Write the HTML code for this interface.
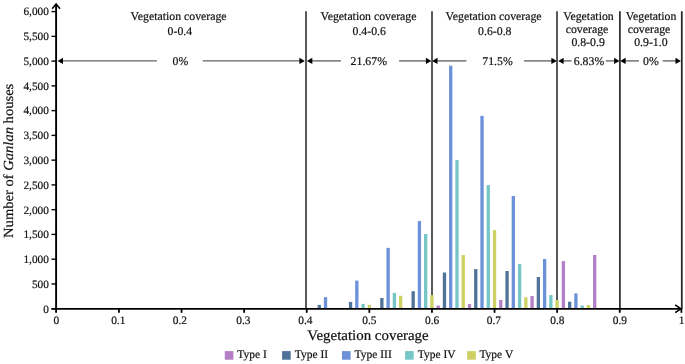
<!DOCTYPE html><html><head><meta charset="utf-8"><title>chart</title><style>
html,body{margin:0;padding:0;background:#fff;overflow:hidden;}
svg{display:block;will-change:transform;}
text{font-family:"Liberation Serif",serif;fill:#111;text-rendering:geometricPrecision;stroke:#111;stroke-width:0.2px;}
</style></head><body>
<svg width="685" height="364" viewBox="0 0 685 364">
<line x1="306.0" y1="11.3" x2="306.0" y2="308.7" stroke="#484848" stroke-width="1.8"/>
<line x1="432.0" y1="11.3" x2="432.0" y2="308.7" stroke="#484848" stroke-width="1.8"/>
<line x1="557.0" y1="11.3" x2="557.0" y2="308.7" stroke="#484848" stroke-width="1.8"/>
<line x1="619.9" y1="11.3" x2="619.9" y2="308.7" stroke="#333" stroke-width="1.8"/>
<line x1="681.8" y1="11.3" x2="681.8" y2="308.7" stroke="#2a2a2a" stroke-width="1.8"/>
<line x1="61.20" y1="60.9" x2="156.9" y2="60.9" stroke="#636363" stroke-width="1.35"/>
<line x1="202.8" y1="60.9" x2="301.30" y2="60.9" stroke="#636363" stroke-width="1.35"/>
<path d="M57.60,60.9 L63.00,57.80 L63.00,64.00 Z" fill="#000"/>
<path d="M304.80,60.9 L299.40,57.80 L299.40,64.00 Z" fill="#000"/>
<text x="180.4" y="64.9" font-size="11.8" text-anchor="middle">0%</text>
<line x1="310.50" y1="60.9" x2="340.9" y2="60.9" stroke="#636363" stroke-width="1.35"/>
<line x1="399.1" y1="60.9" x2="427.80" y2="60.9" stroke="#636363" stroke-width="1.35"/>
<path d="M306.90,60.9 L312.30,57.80 L312.30,64.00 Z" fill="#000"/>
<path d="M431.30,60.9 L425.90,57.80 L425.90,64.00 Z" fill="#000"/>
<text x="368.8" y="64.9" font-size="11.8" text-anchor="middle">21.67%</text>
<line x1="435.70" y1="60.9" x2="466.4" y2="60.9" stroke="#636363" stroke-width="1.35"/>
<line x1="524.1" y1="60.9" x2="553.30" y2="60.9" stroke="#636363" stroke-width="1.35"/>
<path d="M432.10,60.9 L437.50,57.80 L437.50,64.00 Z" fill="#000"/>
<path d="M556.80,60.9 L551.40,57.80 L551.40,64.00 Z" fill="#000"/>
<text x="497.5" y="64.9" font-size="11.8" text-anchor="middle">71.5%</text>
<line x1="561.80" y1="60.9" x2="571.6" y2="60.9" stroke="#636363" stroke-width="1.35"/>
<line x1="605.8" y1="60.9" x2="616.00" y2="60.9" stroke="#636363" stroke-width="1.35"/>
<path d="M558.20,60.9 L563.60,57.80 L563.60,64.00 Z" fill="#000"/>
<path d="M619.50,60.9 L614.10,57.80 L614.10,64.00 Z" fill="#000"/>
<text x="589.0" y="64.9" font-size="11.8" text-anchor="middle">6.83%</text>
<line x1="623.80" y1="60.9" x2="639.0" y2="60.9" stroke="#636363" stroke-width="1.35"/>
<line x1="662.7" y1="60.9" x2="677.40" y2="60.9" stroke="#636363" stroke-width="1.35"/>
<path d="M620.20,60.9 L625.60,57.80 L625.60,64.00 Z" fill="#000"/>
<path d="M680.90,60.9 L675.50,57.80 L675.50,64.00 Z" fill="#000"/>
<text x="650.9" y="64.9" font-size="11.8" text-anchor="middle">0%</text>
<rect x="317.61" y="304.9" width="3.3" height="3.80" fill="#4f7399"/>
<rect x="323.87" y="297.2" width="3.3" height="11.50" fill="#6b91d9"/>
<rect x="348.91" y="301.9" width="3.3" height="6.80" fill="#4f7399"/>
<rect x="355.17" y="280.6" width="3.3" height="28.10" fill="#6b91d9"/>
<rect x="361.43" y="303.9" width="3.3" height="4.80" fill="#74c7c6"/>
<rect x="367.69" y="304.9" width="3.3" height="3.80" fill="#cdd062"/>
<rect x="380.21" y="298.0" width="3.3" height="10.70" fill="#4f7399"/>
<rect x="386.47" y="247.9" width="3.3" height="60.80" fill="#6b91d9"/>
<rect x="392.73" y="292.9" width="3.3" height="15.80" fill="#74c7c6"/>
<rect x="398.99" y="295.8" width="3.3" height="12.90" fill="#cdd062"/>
<rect x="411.51" y="291.2" width="3.3" height="17.50" fill="#4f7399"/>
<rect x="417.77" y="221.1" width="3.3" height="87.60" fill="#6b91d9"/>
<rect x="424.03" y="234.0" width="3.3" height="74.70" fill="#74c7c6"/>
<rect x="430.29" y="295.1" width="3.3" height="13.60" fill="#cdd062"/>
<rect x="436.55" y="305.5" width="3.3" height="3.20" fill="#b37fc6"/>
<rect x="442.81" y="272.5" width="3.3" height="36.20" fill="#4f7399"/>
<rect x="449.07" y="65.7" width="3.3" height="243.00" fill="#6b91d9"/>
<rect x="455.33" y="160.1" width="3.3" height="148.60" fill="#74c7c6"/>
<rect x="461.59" y="255.1" width="3.3" height="53.60" fill="#cdd062"/>
<rect x="467.85" y="304.1" width="3.3" height="4.60" fill="#b37fc6"/>
<rect x="474.11" y="269.1" width="3.3" height="39.60" fill="#4f7399"/>
<rect x="480.37" y="115.9" width="3.3" height="192.80" fill="#6b91d9"/>
<rect x="486.63" y="185.1" width="3.3" height="123.60" fill="#74c7c6"/>
<rect x="492.89" y="230.1" width="3.3" height="78.60" fill="#cdd062"/>
<rect x="499.15" y="300.0" width="3.3" height="8.70" fill="#b37fc6"/>
<rect x="505.41" y="271.0" width="3.3" height="37.70" fill="#4f7399"/>
<rect x="511.67" y="196.0" width="3.3" height="112.70" fill="#6b91d9"/>
<rect x="517.93" y="264.1" width="3.3" height="44.60" fill="#74c7c6"/>
<rect x="524.19" y="297.3" width="3.3" height="11.40" fill="#cdd062"/>
<rect x="530.44" y="296.0" width="3.3" height="12.70" fill="#b37fc6"/>
<rect x="536.70" y="277.0" width="3.3" height="31.70" fill="#4f7399"/>
<rect x="542.96" y="259.0" width="3.3" height="49.70" fill="#6b91d9"/>
<rect x="549.22" y="295.1" width="3.3" height="13.60" fill="#74c7c6"/>
<rect x="555.48" y="300.0" width="3.3" height="8.70" fill="#cdd062"/>
<rect x="561.74" y="261.1" width="3.3" height="47.60" fill="#b37fc6"/>
<rect x="568.00" y="301.7" width="3.3" height="7.00" fill="#4f7399"/>
<rect x="574.26" y="293.4" width="3.3" height="15.30" fill="#6b91d9"/>
<rect x="580.52" y="305.5" width="3.3" height="3.20" fill="#74c7c6"/>
<rect x="586.78" y="305.0" width="3.3" height="3.70" fill="#cdd062"/>
<rect x="593.04" y="255.0" width="3.3" height="53.70" fill="#b37fc6"/>
<line x1="56.1" y1="4.2" x2="56.1" y2="312.8" stroke="#000" stroke-width="1.9"/>
<path d="M52.2,8.8 L56.1,4.0 L60.0,8.8" fill="none" stroke="#000" stroke-width="1.5"/>
<line x1="51.5" y1="308.8" x2="680.8" y2="308.8" stroke="#000" stroke-width="1.8"/>
<path d="M675.2,304.9 L680.8,308.8 L675.2,312.7" fill="none" stroke="#000" stroke-width="1.6"/>
<line x1="51.5" y1="308.70" x2="56" y2="308.70" stroke="#000" stroke-width="1.4"/>
<text x="48.9" y="312.55" font-size="11.3" text-anchor="end">0</text>
<line x1="51.5" y1="283.94" x2="56" y2="283.94" stroke="#000" stroke-width="1.4"/>
<text x="48.9" y="287.79" font-size="11.3" text-anchor="end">500</text>
<line x1="51.5" y1="259.18" x2="56" y2="259.18" stroke="#000" stroke-width="1.4"/>
<text x="48.9" y="263.03" font-size="11.3" text-anchor="end">1,000</text>
<line x1="51.5" y1="234.42" x2="56" y2="234.42" stroke="#000" stroke-width="1.4"/>
<text x="48.9" y="238.27" font-size="11.3" text-anchor="end">1,500</text>
<line x1="51.5" y1="209.67" x2="56" y2="209.67" stroke="#000" stroke-width="1.4"/>
<text x="48.9" y="213.52" font-size="11.3" text-anchor="end">2,000</text>
<line x1="51.5" y1="184.91" x2="56" y2="184.91" stroke="#000" stroke-width="1.4"/>
<text x="48.9" y="188.76" font-size="11.3" text-anchor="end">2,500</text>
<line x1="51.5" y1="160.15" x2="56" y2="160.15" stroke="#000" stroke-width="1.4"/>
<text x="48.9" y="164.00" font-size="11.3" text-anchor="end">3,000</text>
<line x1="51.5" y1="135.39" x2="56" y2="135.39" stroke="#000" stroke-width="1.4"/>
<text x="48.9" y="139.24" font-size="11.3" text-anchor="end">3,500</text>
<line x1="51.5" y1="110.63" x2="56" y2="110.63" stroke="#000" stroke-width="1.4"/>
<text x="48.9" y="114.48" font-size="11.3" text-anchor="end">4,000</text>
<line x1="51.5" y1="85.87" x2="56" y2="85.87" stroke="#000" stroke-width="1.4"/>
<text x="48.9" y="89.72" font-size="11.3" text-anchor="end">4,500</text>
<line x1="51.5" y1="61.12" x2="56" y2="61.12" stroke="#000" stroke-width="1.4"/>
<text x="48.9" y="64.97" font-size="11.3" text-anchor="end">5,000</text>
<line x1="51.5" y1="36.36" x2="56" y2="36.36" stroke="#000" stroke-width="1.4"/>
<text x="48.9" y="40.21" font-size="11.3" text-anchor="end">5,500</text>
<line x1="51.5" y1="11.60" x2="56" y2="11.60" stroke="#000" stroke-width="1.4"/>
<text x="48.9" y="15.45" font-size="11.3" text-anchor="end">6,000</text>
<text x="56.45" y="323.5" font-size="11.4" text-anchor="middle">0</text>
<line x1="118.95" y1="308" x2="118.95" y2="312.8" stroke="#000" stroke-width="1.8"/>
<text x="118.25" y="323.5" font-size="11.4" text-anchor="middle">0.1</text>
<line x1="181.55" y1="308" x2="181.55" y2="312.8" stroke="#000" stroke-width="1.8"/>
<text x="179.95" y="323.5" font-size="11.4" text-anchor="middle">0.2</text>
<line x1="244.14" y1="308" x2="244.14" y2="312.8" stroke="#000" stroke-width="1.8"/>
<text x="243.44" y="323.5" font-size="11.4" text-anchor="middle">0.3</text>
<line x1="306.74" y1="308" x2="306.74" y2="312.8" stroke="#000" stroke-width="1.8"/>
<text x="305.44" y="323.5" font-size="11.4" text-anchor="middle">0.4</text>
<line x1="369.34" y1="308" x2="369.34" y2="312.8" stroke="#000" stroke-width="1.8"/>
<text x="369.44" y="323.5" font-size="11.4" text-anchor="middle">0.5</text>
<line x1="431.94" y1="308" x2="431.94" y2="312.8" stroke="#000" stroke-width="1.8"/>
<text x="432.14" y="323.5" font-size="11.4" text-anchor="middle">0.6</text>
<line x1="494.54" y1="308" x2="494.54" y2="312.8" stroke="#000" stroke-width="1.8"/>
<text x="493.94" y="323.5" font-size="11.4" text-anchor="middle">0.7</text>
<line x1="557.13" y1="308" x2="557.13" y2="312.8" stroke="#000" stroke-width="1.8"/>
<text x="557.33" y="323.5" font-size="11.4" text-anchor="middle">0.8</text>
<line x1="619.73" y1="308" x2="619.73" y2="312.8" stroke="#000" stroke-width="1.8"/>
<text x="619.83" y="323.5" font-size="11.4" text-anchor="middle">0.9</text>
<line x1="681.40" y1="308" x2="681.40" y2="312.8" stroke="#000" stroke-width="1.8"/>
<text x="681.50" y="323.5" font-size="11.4" text-anchor="middle">1</text>
<text x="178.6" y="19.8" font-size="11.8" text-anchor="middle">Vegetation coverage</text>
<text x="179.9" y="34.5" font-size="11.8" text-anchor="middle">0-0.4</text>
<text x="368.5" y="19.8" font-size="11.8" text-anchor="middle">Vegetation coverage</text>
<text x="369.2" y="34.6" font-size="11.8" text-anchor="middle">0.4-0.6</text>
<text x="493.6" y="19.8" font-size="11.8" text-anchor="middle">Vegetation coverage</text>
<text x="494.8" y="34.6" font-size="11.8" text-anchor="middle">0.6-0.8</text>
<text x="588.5" y="19.9" font-size="11.8" text-anchor="middle">Vegetation</text>
<text x="587.0" y="32.8" font-size="11.8" text-anchor="middle">coverage</text>
<text x="588.1" y="45.7" font-size="11.8" text-anchor="middle">0.8-0.9</text>
<text x="651.1" y="19.9" font-size="11.8" text-anchor="middle">Vegetation</text>
<text x="649.0" y="32.8" font-size="11.8" text-anchor="middle">coverage</text>
<text x="650.9" y="45.7" font-size="11.8" text-anchor="middle">0.9-1.0</text>
<text x="307.3" y="340.1" font-size="14.6" textLength="121.4" lengthAdjust="spacingAndGlyphs">Vegetation coverage</text>
<text transform="translate(12.5,237.9) rotate(-90)" font-size="13.9" textLength="154.2" lengthAdjust="spacingAndGlyphs">Number of <tspan font-style="italic">Ganlan</tspan> houses</text>
<rect x="224.8" y="351.1" width="8.6" height="8.6" fill="#b37fc6"/>
<text x="237.3" y="358.2" font-size="11.5">Type I</text>
<rect x="282.1" y="351.1" width="8.6" height="8.6" fill="#4f7399"/>
<text x="294.8" y="358.2" font-size="11.5">Type II</text>
<rect x="342.0" y="351.1" width="8.6" height="8.6" fill="#6b91d9"/>
<text x="354.6" y="358.2" font-size="11.5">Type III</text>
<rect x="405.1" y="351.1" width="8.6" height="8.6" fill="#74c7c6"/>
<text x="417.7" y="358.2" font-size="11.5">Type IV</text>
<rect x="467.2" y="351.1" width="8.6" height="8.6" fill="#cdd062"/>
<text x="479.4" y="358.2" font-size="11.5">Type V</text>
</svg></body></html>
